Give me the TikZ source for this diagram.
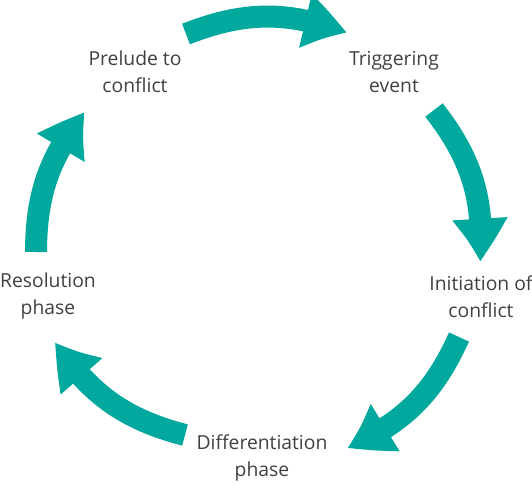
\documentclass[tikz,border=0pt]{standalone}
\usepackage{fontspec}
\setmainfont{Open Sans}
\usetikzlibrary{arrows.meta,bending}
\definecolor{cycteal}{RGB}{0,168,158}

\begin{document}
\begin{tikzpicture}[
    x=0.02cm, y=-0.02cm,
    phase/.style={align=center, font=\fontsize{11}{15.4}\selectfont, text=black!75},
    cyc/.style={draw=cycteal, line width=0.44cm, -{Triangle[length=0.9cm,width=1.02cm,bend]}}
    ]
        \useasboundingbox (0,0) rectangle (532,485);
        \node [phase](prelude) at (135,72) {Prelude to\\conflict};
        \node [phase](trigger) at (394,72) {Triggering\\event};
        \node [phase](init) at (481,297) {Initiation of\\conflict};
        \node [phase](diff) at (262,458) {Differentiation\\phase};
        \node [phase](resol) at (48,296) {Resolution\\phase};
        % arrow ends
        \coordinate (t1) at (186,34);  \coordinate (h1) at (347,33);
        \coordinate (t2) at (434,110); \coordinate (h2) at (480,262);
        \coordinate (t3) at (459,337); \coordinate (h3) at (347,448);
        \coordinate (t4) at (185,435); \coordinate (h4) at (55,342);
        \coordinate (t5) at (36,252);  \coordinate (h5) at (85,112);
        \draw [cyc] (t1) to[bend left=21] (h1);
        \draw [cyc] (t2) to[bend left=21] (h2);
        \draw [cyc] (t3) to[bend left=21] (h3);
        \draw [cyc] (t4) to[bend left=21] (h4);
        \draw [cyc] (t5) to[bend left=19] (h5);
\end{tikzpicture}
\end{document}
